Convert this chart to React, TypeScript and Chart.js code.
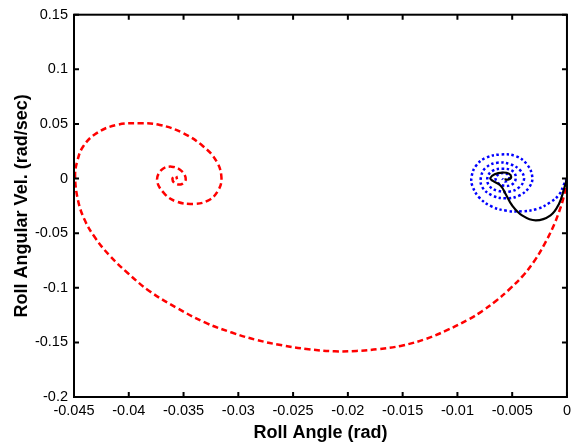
import { useEffect, useRef } from "react";
import { Chart, registerables } from "chart.js";

Chart.register(...registerables);

// Red dashed trajectory
const redX = [
  0, -0.00027, -0.00073, -0.00134, -0.0021, -0.00301, -0.00407, -0.00528, -0.00649, -0.00772,
  -0.00893, -0.01105, -0.01287, -0.015, -0.01713, -0.0192, -0.0212, -0.0236, -0.026, -0.0284,
  -0.0306, -0.033, -0.0356, -0.0381, -0.0401, -0.04175, -0.04305, -0.044, -0.04462, -0.0449,
  -0.0447, -0.04415, -0.04293, -0.04111, -0.03899, -0.03717, -0.03504, -0.03322, -0.032, -0.03154,
  -0.03185, -0.03277, -0.03413, -0.03564, -0.03671, -0.03741, -0.03701, -0.0361, -0.03519, -0.0348,
  -0.03519, -0.0358, -0.03601, -0.03571, -0.03559,
];
const redY = [
  0, -0.0156, -0.0307, -0.0459, -0.0609, -0.076, -0.0895, -0.1016, -0.1121, -0.1212,
  -0.1287, -0.1393, -0.1468, -0.1528, -0.1561, -0.1578, -0.1582, -0.1562, -0.1527, -0.1476,
  -0.141, -0.132, -0.1185, -0.1031, -0.0865, -0.0705, -0.0545, -0.0385, -0.0205, 0.002,
  0.016, 0.0296, 0.0416, 0.0491, 0.0506, 0.0491, 0.0416, 0.0296, 0.016, 0.0009,
  -0.0111, -0.0202, -0.0232, -0.0211, -0.0142, -0.0021, 0.0079, 0.0109, 0.007, -0.0006,
  -0.0052, -0.0042, 0, 0.0024, -0.0006,
];

// Blue dotted trajectory
const blueX = [
  0, -0.0003, -0.0007, -0.0015, -0.0027, -0.0041, -0.0055, -0.0069, -0.00802, -0.00865,
  -0.0087, -0.00832, -0.00741, -0.00604, -0.00467, -0.00364, -0.00316, -0.00346, -0.00437, -0.00558,
  -0.0068, -0.00772, -0.00786, -0.00741, -0.00635, -0.00513, -0.00422, -0.00392, -0.00437, -0.00528,
  -0.00635, -0.0071, -0.00726, -0.0068, -0.00589, -0.00498, -0.00467, -0.00498, -0.00574, -0.00635,
  -0.0065, -0.00604, -0.00544, -0.00528, -0.00565, -0.00592,
];
const blueY = [
  0, -0.006, -0.0145, -0.0216, -0.0277, -0.03, -0.0295, -0.0255, -0.0172, -0.0063,
  0.002, 0.0115, 0.019, 0.022, 0.0205, 0.0129, 0.0009, -0.0081, -0.0156, -0.0181,
  -0.0156, -0.0081, 0.0009, 0.0099, 0.0145, 0.0129, 0.007, -0.0006, -0.0081, -0.012,
  -0.0111, -0.0066, 0.0009, 0.007, 0.009, 0.007, 0.0009, -0.0052, -0.0066, -0.0036,
  0.0009, 0.0048, 0.0039, -0.0006, -0.0027, 0,
];

// Black solid trajectory
const blackX = [
  0, -0.00027, -0.00073, -0.0015, -0.00285, -0.0041, -0.005, -0.0056, -0.00605, -0.0068,
  -0.007, -0.0066, -0.0059, -0.0053, -0.0051, -0.0054, -0.0057,
];
const blackY = [
  0, -0.0096, -0.0232, -0.0337, -0.0383, -0.0337, -0.0247, -0.0141, -0.0066, -0.002,
  0.0005, 0.004, 0.0055, 0.0045, 0.0009, -0.001, -0.0006,
];

const xTicks = [-0.045, -0.04, -0.035, -0.03, -0.025, -0.02, -0.015, -0.01, -0.005, 0];
const yTicks = [-0.2, -0.15, -0.1, -0.05, 0, 0.05, 0.1, 0.15];

const FONT = "'Liberation Sans', Arial, Helvetica, sans-serif";

const toPoints = (xs: number[], ys: number[]) => xs.map((x, i) => ({ x, y: ys[i] }));

const boxPlugin = {
  id: "matlabBox",
  afterDatasetsDraw(chart: any) {
    const { ctx, chartArea } = chart;
    const { left, right, top, bottom } = chartArea;
    const xs = chart.scales.x;
    const ys = chart.scales.y;
    const L = 5;
    ctx.save();
    ctx.strokeStyle = "#000";
    ctx.lineWidth = 2;
    ctx.setLineDash([]);
    ctx.beginPath();
    for (const v of xTicks) {
      const px = xs.getPixelForValue(v);
      ctx.moveTo(px, bottom);
      ctx.lineTo(px, bottom - L);
      ctx.moveTo(px, top);
      ctx.lineTo(px, top + L);
    }
    for (const v of yTicks) {
      const py = ys.getPixelForValue(v);
      ctx.moveTo(left, py);
      ctx.lineTo(left + L, py);
      ctx.moveTo(right, py);
      ctx.lineTo(right - L, py);
    }
    ctx.stroke();
    ctx.strokeRect(left, top, right - left, bottom - top);
    ctx.restore();
  },
};

export default function App() {
  const ref = useRef<HTMLCanvasElement | null>(null);

  useEffect(() => {
    if (!ref.current) return;
    const chart = new Chart(ref.current, {
      type: "scatter",
      data: {
        datasets: [
          {
            label: "black",
            data: toPoints(blackX, blackY),
            showLine: true,
            borderColor: "#000000",
            borderWidth: 2.2,
            pointRadius: 0,
            tension: 0.4,
          },
          {
            label: "blue",
            data: toPoints(blueX, blueY),
            showLine: true,
            borderColor: "#0000ff",
            borderWidth: 2.5,
            borderDash: [2.5, 2.5],
            pointRadius: 0,
            tension: 0.4,
          },
          {
            label: "red",
            data: toPoints(redX, redY),
            showLine: true,
            borderColor: "#ff0000",
            borderWidth: 2.5,
            borderDash: [6, 3.5],
            pointRadius: 0,
            tension: 0.4,
          },
        ],
      },
      options: {
        animation: false,
        responsive: false,
        devicePixelRatio: 1,
        layout: { padding: { top: 10, right: 8, left: 0, bottom: 0 } },
        plugins: {
          legend: { display: false },
          tooltip: { enabled: false },
        },
        scales: {
          x: {
            type: "linear",
            min: -0.045,
            max: 0,
            afterBuildTicks: (s: any) => {
              s.ticks = xTicks.map((v) => ({ value: v }));
            },
            afterFit: (s: any) => {
              s.height = 48;
            },
            grid: { display: false, drawTicks: false, tickLength: 0 },
            border: { display: false },
            ticks: {
              color: "#000",
              padding: 5,
              maxRotation: 0,
              autoSkip: false,
              font: { family: FONT, size: 14.5 },
              callback: (v: any) => String(v),
            },
            title: {
              display: true,
              text: "Roll Angle (rad)",
              color: "#000",
              font: { family: FONT, size: 18, weight: "bold", lineHeight: 1.2 },
              padding: { top: 0, bottom: 1 },
            },
          },
          y: {
            type: "linear",
            min: -0.2,
            max: 0.15,
            afterBuildTicks: (s: any) => {
              s.ticks = yTicks.map((v) => ({ value: v }));
            },
            afterFit: (s: any) => {
              s.width = 74;
            },
            grid: { display: false, drawTicks: false, tickLength: 0 },
            border: { display: false },
            ticks: {
              color: "#000",
              padding: 6,
              autoSkip: false,
              font: { family: FONT, size: 14.5 },
              callback: (v: any) => String(v),
            },
            title: {
              display: true,
              text: "Roll Angular Vel. (rad/sec)",
              color: "#000",
              font: { family: FONT, size: 18, weight: "bold", lineHeight: 1.2 },
              padding: { top: 11, bottom: 0 },
            },
          },
        },
      },
      plugins: [boxPlugin],
    });
    return () => chart.destroy();
  }, []);

  return (
    <div style={{ position: "absolute", left: 0, top: 0, width: 576, height: 445, background: "#fff" }}>
      <canvas ref={ref} width={576} height={445} />
    </div>
  );
}
